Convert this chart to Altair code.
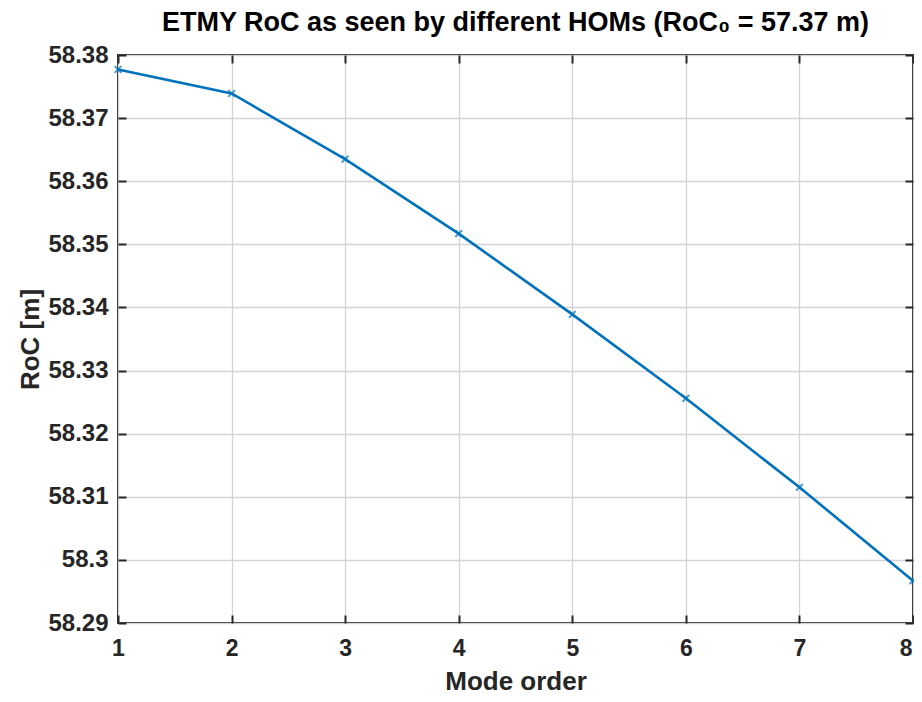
import altair as alt
import pandas as pd

# Data
mode_order = [1, 2, 3, 4, 5, 6, 7, 8]
roc_values = [58.3777, 58.3739, 58.3635, 58.3517, 58.3389, 58.3256, 58.3115, 58.2967]
x_ticks = [1, 2, 3, 4, 5, 6, 7, 8]
y_ticks = [58.29, 58.30, 58.31, 58.32, 58.33, 58.34, 58.35, 58.36, 58.37, 58.38]

df = pd.DataFrame({"order": mode_order, "roc": roc_values})

W, H = 795, 568
FONT = "Liberation Sans"
LINE_COLOR = "#0072BD"
TXT = "#262626"

xs = alt.Scale(domain=[1, 8], nice=False, zero=False)
ys = alt.Scale(domain=[58.29, 58.38], nice=False, zero=False)

base = alt.Chart(df)

line = base.mark_line(color=LINE_COLOR, strokeWidth=2.6, clip=False).encode(
    x=alt.X("order:Q", scale=xs,
            axis=alt.Axis(values=x_ticks, title="Mode order", orient="bottom",
                          grid=True, gridColor="#d4d4d4", gridWidth=1.3,
                          ticks=False, domain=False, labelFont=FONT,
                          labelFontSize=23, labelFontWeight="bold", labelColor=TXT,
                          labelPadding=14, titleFont=FONT, titleFontSize=26,
                          titleFontWeight="bold", titleColor=TXT, titlePadding=8,
                          labelFlush=False,
                          labelAlign={"condition": {"test": "datum.value == 8", "value": "right"},
                                      "value": "center"},
                          labelOffset={"condition": {"test": "datum.value == 8", "value": -1},
                                       "value": 0})),
    y=alt.Y("roc:Q", scale=ys,
            axis=alt.Axis(values=y_ticks, title="RoC [m]", orient="left",
                          format=".4~g", grid=True, gridColor="#d4d4d4", gridWidth=1.3,
                          ticks=False, domain=False, labelFont=FONT,
                          labelFontSize=24, labelFontWeight="bold", labelColor=TXT,
                          labelPadding=10, titleFont=FONT, titleFontSize=26,
                          titleFontWeight="bold", titleColor=TXT, titlePadding=4,
                          labelFlush=False)),
)

xpath = "M-1,-1L1,1M-1,1L1,-1"
pts = base.mark_point(shape=xpath, size=45, strokeWidth=2, color=LINE_COLOR,
                      filled=False, clip=False).encode(
    x=alt.X("order:Q", scale=xs, axis=None),
    y=alt.Y("roc:Q", scale=ys, axis=None),
)


def tick_axis(values, orient, offset):
    return alt.Axis(values=values, orient=orient, offset=offset, labels=False,
                    ticks=True, tickSize=8, tickWidth=2, tickColor=TXT,
                    domain=False, grid=False, title=None)


ghost = dict(opacity=0)
t_bottom = base.mark_point(**ghost).encode(
    x=alt.X("order:Q", scale=xs, axis=tick_axis(x_ticks, "top", -H)),
    y=alt.Y("roc:Q", scale=ys, axis=None))
t_top = base.mark_point(**ghost).encode(
    x=alt.X("order:Q", scale=xs, axis=tick_axis(x_ticks, "bottom", -H)),
    y=alt.Y("roc:Q", scale=ys, axis=None))
t_left = base.mark_point(**ghost).encode(
    x=alt.X("order:Q", scale=xs, axis=None),
    y=alt.Y("roc:Q", scale=ys, axis=tick_axis(y_ticks, "right", -W)))
t_right = base.mark_point(**ghost).encode(
    x=alt.X("order:Q", scale=xs, axis=None),
    y=alt.Y("roc:Q", scale=ys, axis=tick_axis(y_ticks, "left", -W)))

chart = alt.layer(line, pts, t_bottom, t_top, t_left, t_right).resolve_axis(
    x="independent", y="independent"
).properties(
    width=W, height=H,
    title=alt.TitleParams(
        "ETMY RoC as seen by different HOMs (RoC\u2080 = 57.37 m)",
        font=FONT, fontSize=27, fontWeight="bold", color="#000000",
        anchor="middle", offset=6),
    autosize=alt.AutoSizeParams(type="none"),
    padding={"left": 110, "top": 47, "right": 1, "bottom": 71},
).configure_view(stroke=TXT, strokeWidth=2)

chart.save("out.html", embed_options={"renderer": "svg", "actions": False})
